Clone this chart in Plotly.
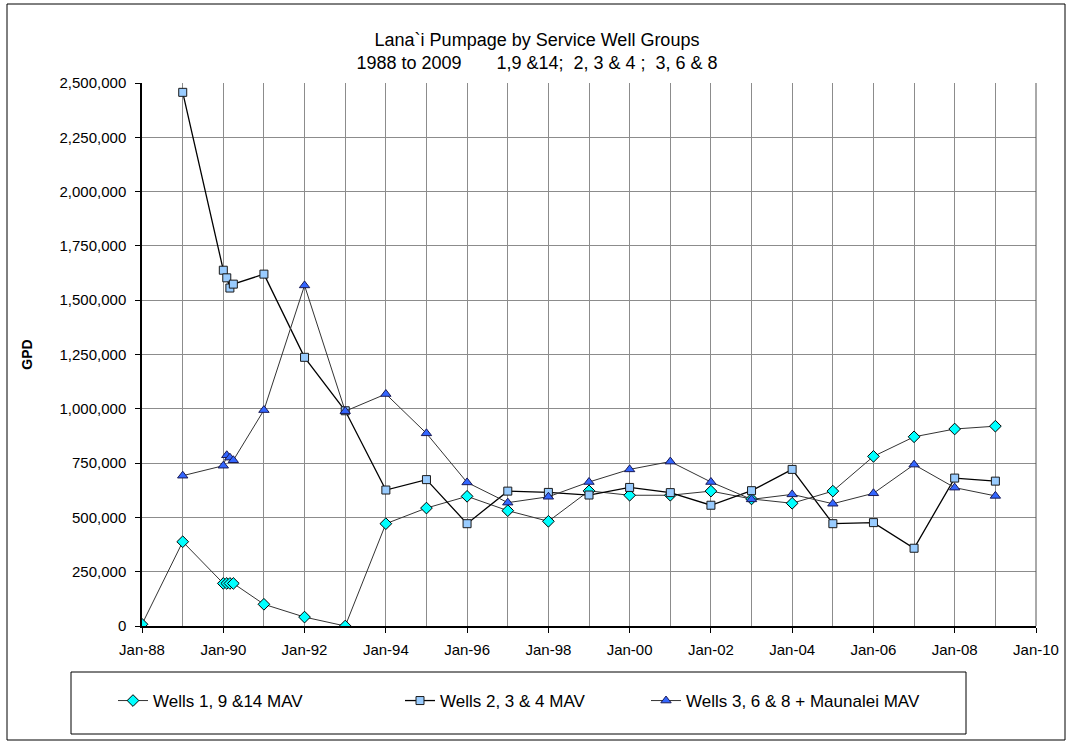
import plotly.graph_objects as go

# ---- data ----
dates = ["1988-01-01", "1989-01-01", "1990-01-01", "1990-02-01", "1990-03-01", "1990-04-01",
         "1991-01-01", "1992-01-01", "1993-01-01", "1994-01-01", "1995-01-01", "1996-01-01",
         "1997-01-01", "1998-01-01", "1999-01-01", "2000-01-01", "2001-01-01", "2002-01-01",
         "2003-01-01", "2004-01-01", "2005-01-01", "2006-01-01", "2007-01-01", "2008-01-01",
         "2009-01-01"]

wells_1_9_14 = [8000, 388000, 196000, 196000, 196000, 196000,
                100000, 41000, 0, 471000, 543000, 597000,
                531000, 482000, 622000, 602000, 602000, 621000,
                585000, 565000, 621000, 781000, 871000, 907000,
                920000]

dates_sq = dates[1:]
wells_2_3_4 = [2457000, 1638000, 1603000, 1556000, 1574000,
               1620000, 1237000, 991000, 626000, 674000, 471000,
               621000, 615000, 603000, 638000, 614000, 556000,
               623000, 721000, 471000, 476000, 358000, 681000,
               667000]

dates_tri = dates[1:]
wells_3_6_8 = [692000, 738000, 786000, 775000, 763000,
               994000, 1568000, 989000, 1068000, 887000, 661000,
               568000, 595000, 663000, 721000, 757000, 663000,
               583000, 606000, 563000, 611000, 743000, 637000,
               599000]

series_names = ["Wells 1, 9 &14 MAV", "Wells 2, 3 & 4 MAV", "Wells 3, 6 & 8 + Maunalei MAV"]

title_line1 = "Lana`i Pumpage by Service Well Groups"
title_line2 = "1988 to 2009\u00a0\u00a0\u00a0\u00a0\u00a0\u00a0\u00a01,9 &14;\u00a0\u00a02, 3 & 4 ;\u00a0\u00a03, 6 & 8"

FONT = "Liberation Sans, Arial, sans-serif"

W, H = 1070, 744
# plot area in screen pixels
L, R, T, B = 142, 1036, 83, 626
pw, ph = R - L, B - T

def px(x):
    return (x - L) / pw

def py(y):
    return (B - y) / ph

fig = go.Figure()
fig.add_trace(go.Scatter(
    x=dates, y=wells_1_9_14, name=series_names[0], mode="lines+markers", legend="legend",
    line=dict(color="#333333", width=1),
    marker=dict(symbol="diamond", size=9, color="#00FFFF", line=dict(color="#000000", width=1)),
))
fig.add_trace(go.Scatter(
    x=dates_sq, y=wells_2_3_4, name=series_names[1], mode="lines+markers", legend="legend2",
    line=dict(color="#000000", width=1.3),
    marker=dict(symbol="square", size=8, color="#99CCFF", line=dict(color="#1a1a1a", width=1)),
))
fig.add_trace(go.Scatter(
    x=dates_tri, y=wells_3_6_8, name=series_names[2], mode="lines+markers", legend="legend3",
    line=dict(color="#333333", width=1),
    marker=dict(symbol="triangle-up", size=9, color="#3366FF", line=dict(color="#1a1a55", width=1)),
))

leg_common = dict(orientation="h", xanchor="left", yanchor="middle", y=py(701),
                  bgcolor="rgba(0,0,0,0)", borderwidth=0,
                  font=dict(family=FONT, size=17), itemwidth=30)

fig.update_layout(
    width=W, height=H,
    margin=dict(l=L, r=W - R, t=T, b=H - B),
    paper_bgcolor="white", plot_bgcolor="white",
    font=dict(family=FONT, size=12, color="black"),
    title=dict(text=title_line1 + "<br>" + title_line2, x=537 / W, xref="container",
               xanchor="center",
               y=1 - 46 / H, yanchor="middle", yref="container",
               font=dict(family=FONT, size=18, color="black")),
    showlegend=True,
    legend=dict(x=px(113), **leg_common),
    legend2=dict(x=px(400), **leg_common),
    legend3=dict(x=px(646), **leg_common),
    xaxis=dict(
        type="date", range=["1988-01-01", "2010-01-01"],
        tick0="1988-01-01", dtick="M24", tickformat="%b-%y",
        showgrid=True, gridcolor="#8c8c8c", gridwidth=1,
        minor=dict(dtick="M12", tick0="1988-01-01", showgrid=True, gridcolor="#8c8c8c", gridwidth=1),
        showline=True, linecolor="black", linewidth=1.5,
        ticks="outside", ticklen=5, tickcolor="black",
        tickfont=dict(family=FONT, size=15),
        ticklabelstandoff=4,
        zeroline=False,
    ),
    yaxis=dict(
        range=[0, 2500000], dtick=250000, tickformat=",d",
        showgrid=True, gridcolor="#8c8c8c", gridwidth=1,
        showline=True, linecolor="black", linewidth=1.5,
        ticks="outside", ticklen=5, tickcolor="black",
        tickfont=dict(family=FONT, size=15),
        ticklabelstandoff=6,
        zeroline=False,
        title=dict(text="<b>GPD</b>", font=dict(family=FONT, size=14), standoff=24),
    ),
    shapes=[
        # outer chart border
        dict(type="rect", xref="paper", yref="paper",
             x0=px(7), x1=px(1065), y0=py(740), y1=py(4),
             line=dict(color="black", width=1), fillcolor="rgba(0,0,0,0)", layer="below"),
        # legend box
        dict(type="rect", xref="paper", yref="paper",
             x0=px(71), x1=px(966), y0=py(734), y1=py(672),
             line=dict(color="black", width=1), fillcolor="rgba(0,0,0,0)", layer="below"),
        # plot right border
        dict(type="line", xref="paper", yref="paper", x0=1, x1=1, y0=0, y1=1,
             line=dict(color="#555555", width=1)),
    ],
)

fig.write_html("out.html", config={"displayModeBar": False},
               post_script="document.body.style.margin='0';document.documentElement.style.overflow='hidden';")
